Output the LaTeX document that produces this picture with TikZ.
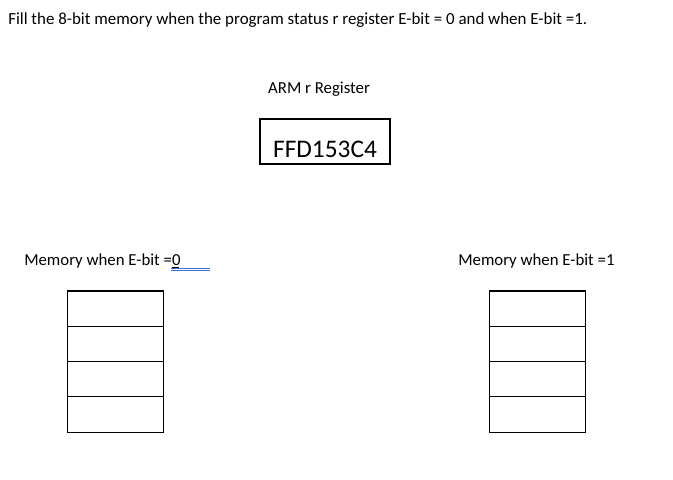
\documentclass[tikz,border=0pt]{standalone}
\usepackage{fontspec}
\setmainfont{Carlito}
\definecolor{wavyblue}{RGB}{60,110,215}
\begin{document}
\begin{tikzpicture}[
    x=0.75pt, y=-0.75pt,
    label/.style={
        inner sep=0pt,
        font=\fontsize{12.6}{15}\selectfont
    },
    regbox/.style={
        draw=black,
        line width=0.8pt,
        inner sep=0pt,
        minimum width=97.5pt,
        text height=28.5pt,
        text depth=5.25pt,
        font=\fontsize{19}{23}\selectfont
    },
    cell/.style={
        draw=black,
        line width=0.8pt,
        minimum width=71.8pt,
        minimum height=26.45pt,
        inner sep=0pt
    }
]
    \useasboundingbox (0,0) rectangle (673,479);

    \node[label, font=\fontsize{12.7}{15}\selectfont, anchor=base west] (title) at (8,24)
        {Fill the 8-bit memory when the program status r register E-bit = 0 and when E-bit =1.};

    \node[label, anchor=base] (regLabel) at (319,93) {ARM r Register};
    \node[regbox] (reg) at (325,141.5) {FFD153C4};

    \node[label, anchor=base west] (memLabelA) at (24,265.5) {Memory when E-bit =0};
    \node[label, anchor=base west] (memLabelB) at (458,265.5) {Memory when E-bit =1};

    % memory cells
    \foreach \i in {1,...,4} {
        \node[cell] (memA\i) at (115.2,273.4+35.25*\i) {};
        \node[cell] (memB\i) at (537.8,273.4+35.25*\i) {};
    }

    % underline and spell-check mark
    \draw[line width=0.7pt] (172,267.3) -- (179,267.3);
    \draw[wavyblue, line width=0.8pt] (171,268.2) -- (210,268.2);
    \draw[wavyblue, line width=0.8pt] (171,270.6) -- (210,270.6);
\end{tikzpicture}
\end{document}
